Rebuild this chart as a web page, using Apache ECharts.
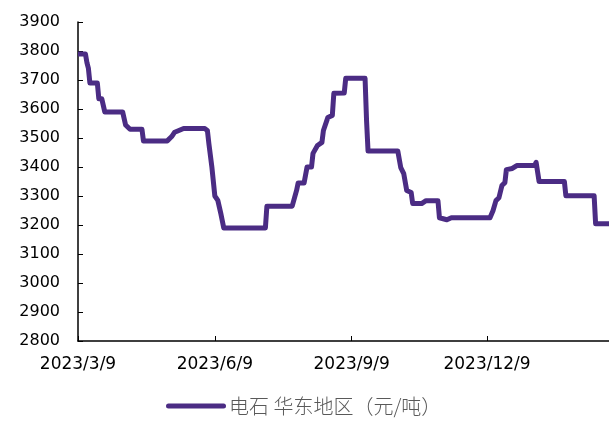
<!DOCTYPE html>
<html>
<head>
<meta charset="utf-8">
<script src="https://cdn.jsdelivr.net/npm/echarts@6/dist/echarts.min.js"></script>
<style>html,body{margin:0;padding:0;background:#fff}#c{width:609px;height:423px}</style>
</head>
<body>
<div id="c"></div>
<script>
const seriesName = '电石 华东地区（元/吨）';
const dates = ['2023-03-09','2023-03-14','2023-03-15','2023-03-16','2023-03-17','2023-03-22','2023-03-23','2023-03-25','2023-03-27','2023-04-08','2023-04-10','2023-04-13','2023-04-21','2023-04-22','2023-05-08','2023-05-11','2023-05-13','2023-05-19','2023-06-02','2023-06-04','2023-06-05','2023-06-07','2023-06-09','2023-06-11','2023-06-13','2023-06-15','2023-07-13','2023-07-14','2023-07-31','2023-08-03','2023-08-04','2023-08-08','2023-08-10','2023-08-13','2023-08-14','2023-08-17','2023-08-20','2023-08-21','2023-08-24','2023-08-27','2023-08-28','2023-09-04','2023-09-05','2023-09-18','2023-09-19','2023-09-20','2023-10-10','2023-10-12','2023-10-14','2023-10-16','2023-10-19','2023-10-20','2023-10-26','2023-10-29','2023-11-06','2023-11-07','2023-11-12','2023-11-15','2023-12-11','2023-12-13','2023-12-15','2023-12-17','2023-12-19','2023-12-21','2023-12-22','2023-12-26','2023-12-29','2024-01-10','2024-01-11','2024-01-13','2024-01-30','2024-01-31','2024-02-19','2024-02-20','2024-02-29'];
const values = [3790,3790,3760,3740,3690,3690,3635,3635,3590,3590,3545,3530,3530,3490,3490,3505,3520,3533,3533,3526,3480,3400,3300,3285,3240,3190,3190,3265,3265,3320,3345,3345,3400,3400,3447,3474,3485,3526,3571,3578,3654,3655,3706,3706,3560,3455,3455,3398,3377,3319,3312,3274,3274,3284,3284,3225,3218,3225,3225,3249,3284,3294,3336,3346,3391,3395,3405,3405,3416,3350,3350,3301,3301,3204,3204];
const xLabels = ['2023-03-09','2023-06-09','2023-09-09','2023-12-09'];
const xMin = '2023-03-09', xMax = '2024-02-29';
const yMin = 2800, yMax = 3900, yStep = 100;

const DAY = 86400000;
function utc(s){const p=s.split('-').map(Number);return Date.UTC(p[0],p[1]-1,p[2]);}
const t0 = utc(xMin);
function dayIdx(s){return Math.round((utc(s)-t0)/DAY);}
function fmt(d){const t=new Date(t0+Math.round(d)*DAY);return t.getUTCFullYear()+'/'+(t.getUTCMonth()+1)+'/'+t.getUTCDate();}
const data = dates.map((d,i)=>[dayIdx(d), values[i]]);
const tickVals = xLabels.map(dayIdx);

const chart = echarts.init(document.getElementById('c'));
const numFont = '"DejaVu Sans", sans-serif';
const cjkFont = '"Noto Sans CJK SC", sans-serif';
chart.setOption({
  animation:false,
  grid:{left:78,right:0,top:22,bottom:82,containLabel:false},
  legend:{top:396,left:166,padding:0,itemWidth:60,itemHeight:5,itemGap:10,
    textStyle:{fontFamily:cjkFont,fontSize:20,fontWeight:300,color:'#595959',padding:[0,0,0,-2]},
    data:[{name:seriesName,icon:'path://M2.5,0 L57.5,0 A2.5,2.5 0 0 1 57.5,5 L2.5,5 A2.5,2.5 0 0 1 2.5,0 Z'}]},
  xAxis:{type:'value',min:0,max:dayIdx(xMax),
    axisLine:{lineStyle:{color:'#000',width:1.5}},
    axisTick:{show:true,inside:true,length:5,customValues:tickVals,lineStyle:{color:'#000'}},
    axisLabel:{customValues:tickVals,color:'#000',fontSize:17,fontFamily:numFont,margin:15,
      formatter:(v)=>fmt(v)},
    splitLine:{show:false}},
  yAxis:{type:'value',min:yMin,max:yMax,interval:yStep,
    axisLine:{show:true,lineStyle:{color:'#000',width:1.5}},
    axisTick:{show:true,inside:true,length:5,lineStyle:{color:'#000'}},
    axisLabel:{color:'#000',fontSize:16,fontFamily:numFont,margin:18,formatter:(v)=>String(v)},
    splitLine:{show:false}},
  series:[{name:seriesName,type:'line',data:data,showSymbol:false,symbol:'none',
    lineStyle:{color:'#4b2c84',width:5,join:'round'},itemStyle:{color:'#4b2c84'}}]
});
</script>
</body>
</html>
